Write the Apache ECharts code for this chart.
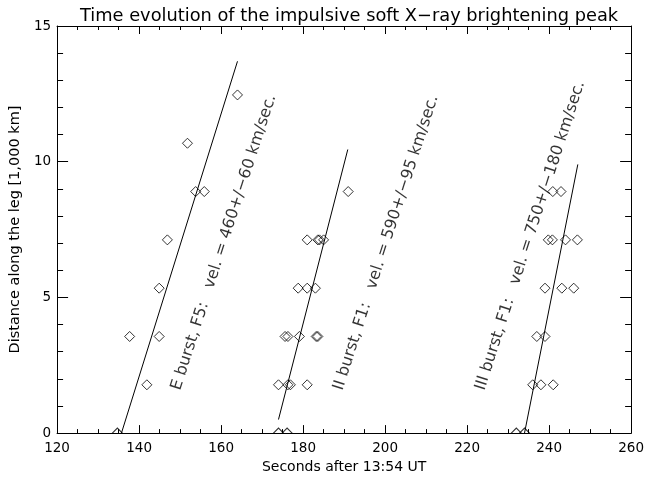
<!DOCTYPE html>
<html><head><meta charset="utf-8">
<script src="https://cdn.jsdelivr.net/npm/echarts@6/dist/echarts.min.js"></script>
<style>html,body{margin:0;padding:0;background:#fff}#c{width:647px;height:479px}</style>
</head><body><div id="c"></div>
<script>
const titleText = 'Time evolution of the impulsive soft X\u2212ray brightening peak';
const xName = 'Seconds after 13:54 UT';
const yName = 'Distance along the leg [1,000 km]';
const xRange = [120, 260];
const xStep = 20;
const yRange = [0, 15];
const yStep = 5;

// E burst (F5)
const eTimes = [134.7, 141.9, 137.7, 144.9, 144.9, 146.9, 153.8, 155.9, 151.8, 164.0];
const eDist  = [0, 1.78, 3.56, 3.56, 5.34, 7.12, 8.9, 8.9, 10.68, 12.46];
// II burst (F1)
const iiTimes = [174.0, 176.1, 174.0, 176.3, 176.9, 181.0, 175.6, 176.3, 179.1, 183.2, 183.6, 178.8, 181.0, 183.0, 181.0, 183.6, 184.0, 185.0, 191.0];
const iiDist  = [0, 0, 1.78, 1.78, 1.78, 1.78, 3.56, 3.56, 3.56, 3.56, 3.56, 5.34, 5.34, 5.34, 7.12, 7.12, 7.12, 7.12, 8.9];
// III burst (F1)
const iiiTimes = [232.0, 234.0, 236.0, 238.0, 241.0, 237.0, 239.0, 239.0, 243.1, 246.0, 239.8, 240.8, 244.0, 246.9, 240.9, 242.9];
const iiiDist  = [0, 0, 1.78, 1.78, 1.78, 3.56, 3.56, 5.34, 5.34, 5.34, 7.12, 7.12, 7.12, 7.12, 8.9, 8.9];

// fitted velocity lines (end points)
const eFitTimes = [135.7, 164.0];
const eFitDist  = [0, 13.7];
const iiFitTimes = [174.0, 190.9];
const iiFitDist  = [0.5, 10.45];
const iiiFitTimes = [234.0, 247.0];
const iiiFitDist  = [0, 9.9];

// annotations
const noteTexts = [
  'E burst, F5:   vel. = 460+/\u221260 km/sec.',
  'II burst, F1:   vel. = 590+/\u221295 km/sec.',
  'III burst, F1:   vel. = 750+/\u2212180 km/sec.'
];
const noteTimes = [149.0, 188.6, 223.2];
const noteDist  = [1.6, 1.6, 1.6];

const FONT = 'DejaVu Sans';
const black = '#000';

function points(ts, ds) {
  return ts.map((t, i) => ds[i] === 0
    ? { value: [t, ds[i]], symbol: 'path://M0,10L5,0L10,10', symbolSize: [10, 5], symbolOffset: [0, -2.5] }
    : [t, ds[i]]);
}
function line(ts, ds) { return ts.map((t, i) => [t, ds[i]]); }

function scatterSeries(ts, ds) {
  return {
    type: 'scatter', data: points(ts, ds), symbol: 'diamond', symbolSize: [10, 10],
    itemStyle: { color: 'rgba(0,0,0,0)', borderColor: black, borderWidth: 1 },
    silent: true, z: 3
  };
}
function lineSeries(ts, ds) {
  return {
    type: 'line', data: line(ts, ds), symbol: 'none', showSymbol: false,
    lineStyle: { color: black, width: 1 }, silent: true, z: 2
  };
}

function xAxisCfg(pos, showLabel) {
  return {
    type: 'value', min: xRange[0], max: xRange[1], interval: xStep, position: pos,
    axisLine: { show: true, onZero: false, lineStyle: { color: black, width: 1 } },
    axisTick: { show: true, inside: true, length: 8, lineStyle: { color: black, width: 1 } },
    minorTick: { show: true, splitNumber: 4, length: 4, lineStyle: { color: black, width: 1 } },
    splitLine: { show: false }, minorSplitLine: { show: false },
    axisLabel: { show: showLabel, color: black, fontSize: 13.5, fontFamily: FONT, margin: 8 },
    name: showLabel ? xName : '', nameLocation: 'middle', nameGap: 26,
    nameTextStyle: { color: black, fontSize: 14, fontFamily: FONT }
  };
}
function yAxisCfg(pos, showLabel) {
  return {
    type: 'value', min: yRange[0], max: yRange[1], interval: yStep, position: pos,
    axisLine: { show: true, onZero: false, lineStyle: { color: black, width: 1 } },
    axisTick: { show: true, inside: true, length: 11, lineStyle: { color: black, width: 1 } },
    minorTick: { show: true, splitNumber: 5, length: 6, lineStyle: { color: black, width: 1 } },
    splitLine: { show: false }, minorSplitLine: { show: false },
    axisLabel: { show: showLabel, color: black, fontSize: 13.5, fontFamily: FONT, margin: 6 },
    name: showLabel ? yName : '', nameLocation: 'middle', nameGap: 31, nameRotate: 90,
    nameTextStyle: { color: black, fontSize: 14.5, fontFamily: FONT }
  };
}

const chart = echarts.init(document.getElementById('c'), null, { renderer: 'canvas' });
chart.setOption({
  animation: false,
  backgroundColor: '#fff',
  title: {
    text: titleText, left: 75, top: 2,
    textStyle: { color: black, fontSize: 17.8, fontWeight: 'normal', fontFamily: FONT }
  },
  grid: { left: 56, right: 12, top: 26, bottom: 44 },
  xAxis: [xAxisCfg('bottom', true), xAxisCfg('top', false)],
  yAxis: [yAxisCfg('left', true), yAxisCfg('right', false)],
  series: [
    scatterSeries(eTimes, eDist),
    scatterSeries(iiTimes, iiDist),
    scatterSeries(iiiTimes, iiiDist),
    lineSeries(eFitTimes, eFitDist),
    lineSeries(iiFitTimes, iiFitDist),
    lineSeries(iiiFitTimes, iiiFitDist),
    {
      type: 'scatter', silent: true, z: 4,
      data: noteTimes.map((t, i) => ({ value: [t, noteDist[i]], name: noteTexts[i] })),
      symbol: 'circle', symbolSize: 1, itemStyle: { color: 'rgba(0,0,0,0)' },
      label: {
        show: true, formatter: p => p.name, position: 'inside',
        align: 'left', verticalAlign: 'middle', rotate: 72,
        color: black, fontSize: 16, fontFamily: FONT
      }
    }
  ]
});
</script>
</body></html>
